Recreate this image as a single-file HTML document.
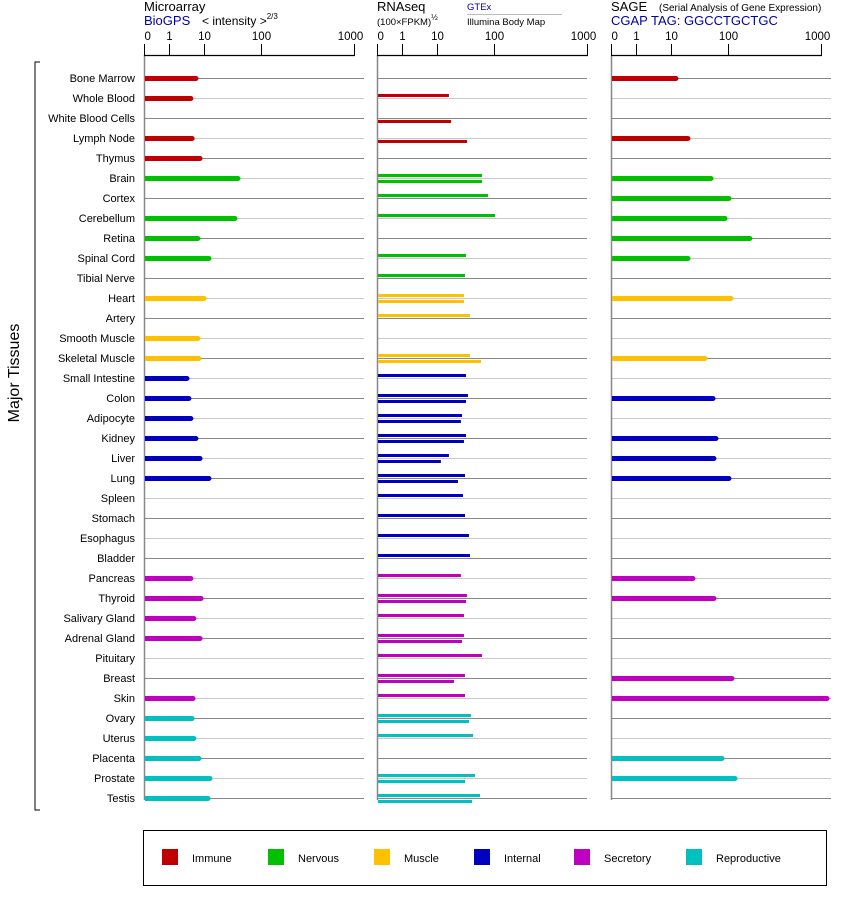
<!DOCTYPE html>
<html><head><meta charset="utf-8"><style>
body{margin:0;background:#fff;}
svg{display:block;font-family:"Liberation Sans",sans-serif;}
</style></head><body>
<svg id="chart" width="842" height="900" viewBox="0 0 842 900">
<g>
<text x="144" y="11" font-size="13">Microarray</text>
<text x="144" y="25" font-size="13" fill="#0000aa">BioGPS</text>
<text x="202" y="25" font-size="12">&lt; intensity &gt;<tspan font-size="8" dy="-6">2/3</tspan></text>
<text x="377" y="11" font-size="13">RNAseq</text>
<text x="377" y="25" font-size="9.5">(100×FPKM)<tspan font-size="8" dy="-5">½</tspan></text>
<text x="467" y="10" font-size="9.5" fill="#0000aa">GTEx</text>
<line x1="467" y1="14.5" x2="562" y2="14.5" stroke="#bbb" stroke-width="1"/>
<text x="467" y="25" font-size="9.5">Illumina Body Map</text>
<text x="611" y="11" font-size="13">SAGE</text>
<text x="659" y="11" font-size="10">(Serial Analysis of Gene Expression)</text>
<text x="611" y="25" font-size="13" fill="#0000aa">CGAP TAG: GGCCTGCTGC</text>
</g>
<g>
<path d="M40 62 H35 V810 H40" fill="none" stroke="#000" stroke-width="1"/>
<text transform="translate(19,373) rotate(-90)" text-anchor="middle" font-size="16">Major Tissues</text>
</g>
<g id="plot"></g>
<g>
<rect x="143.5" y="830.5" width="683" height="55" fill="none" stroke="#000"/>
<g id="legend"></g>
</g>
</svg>
<script>
const tissues=["Bone Marrow","Whole Blood","White Blood Cells","Lymph Node","Thymus","Brain","Cortex","Cerebellum","Retina","Spinal Cord","Tibial Nerve","Heart","Artery","Smooth Muscle","Skeletal Muscle","Small Intestine","Colon","Adipocyte","Kidney","Liver","Lung","Spleen","Stomach","Esophagus","Bladder","Pancreas","Thyroid","Salivary Gland","Adrenal Gland","Pituitary","Breast","Skin","Ovary","Uterus","Placenta","Prostate","Testis"];
const groups=[0,0,0,0,0,1,1,1,1,1,1,2,2,2,2,3,3,3,3,3,3,3,3,3,3,4,4,4,4,4,4,4,5,5,5,5,5];
const groupNames=["Immune","Nervous","Muscle","Internal","Secretory","Reproductive"];
const tickLabels=["0","1","10","100","1000"];
const tickValues=[0,1,10,100,1000];
const microarray=[7.2,5.4,0,5.8,9,43.6,0,38.6,8,13.4,0,10.9,0,8,8.5,4.3,4.8,5.4,7.2,9,13.4,0,0,0,0,5.4,9.5,6.4,9,0,0,6.1,5.8,6.4,8.5,14,12.9];
const gtex=[0,16.5,0,0,0,62.3,79,102.5,0,33,31.7,30.4,38.7,0,38.7,33,35.7,28.1,33,16.5,31.7,29.2,31.7,37.2,38.7,26.9,34.3,30.4,30.4,62.3,31.7,31.7,40.2,43.6,0,47.2,57.6];
const illumina=[0,0,18,34.3,0,62.3,0,0,0,0,0,30.4,0,0,60,0,33,26.9,30.4,11.8,23.9,0,0,0,0,0,33,0,28.1,0,20.3,0,37.2,0,0,31.7,41.9];
const sage=[13.4,0,0,22,0,55.4,107.6,96.2,181,22,0,113,0,0,43.6,0,60,0,67.4,62.3,107.6,0,0,0,0,26.9,62.3,0,0,0,116,1218,0,0,85.5,125,0];
const colors=["#c00000","#00c000","#ffc000","#0000c0","#c000c0","#00c0c0"];
const NS="http://www.w3.org/2000/svg";
const knotsF=[0,Math.log10(2),Math.log10(11),Math.log10(101),Math.log10(1001)];
const knotsD=[0,25,60,117,210];
function scale(v){const f=Math.log10(Math.max(v,0)+1);let i=0;while(i<3&&f>knotsF[i+1])i++;return knotsD[i]+(f-knotsF[i])/(knotsF[i+1]-knotsF[i])*(knotsD[i+1]-knotsD[i]);}
function rowY(i){return 78+i*20;}
function mk(tag,attrs,parent){const e=document.createElementNS(NS,tag);for(const k in attrs)e.setAttribute(k,attrs[k]);parent.appendChild(e);return e;}
const plot=document.getElementById('plot');
const panels=[{x:144,w:220,name:"microarray"},{x:377,w:210,name:"rnaseq"},{x:611,w:220,name:"sage"}];
tissues.forEach((t,i)=>{const e=mk('text',{x:135,y:rowY(i)+4,'text-anchor':'end','font-size':11},plot);e.textContent=t;

});
panels.forEach((p,pi)=>{
 const g=mk('g',{},plot);
 
 
 tissues.forEach((t,i)=>{const y=rowY(i)+0.5;const l=mk('line',{x1:p.x,x2:p.x+p.w,y1:y,y2:y,stroke:i%2==0?'#888':'#c8c8c8','stroke-width':1},g);
 
 });
 mk('line',{x1:p.x+0.5,x2:p.x+0.5,y1:55,y2:800,stroke:'#888','stroke-width':1.5},g);
 const ax=mk('line',{x1:p.x,x2:p.x+scale(1000)+1,y1:55.5,y2:55.5,stroke:'#000','stroke-width':1.2},g);
 
 
 tickValues.forEach((v,k)=>{const x=p.x+scale(v)+0.5;mk('line',{x1:x,x2:x,y1:44,y2:55,stroke:'#000','stroke-width':1},g);
 const tx=mk('text',{x:k==4?x-4:x,y:40,'text-anchor':k==0?'start':'middle','font-size':11.5},g);tx.textContent=tickLabels[k];
 
 });
});
function thickBar(px,i,v,name){if(!v)return;const y=rowY(i);const w=scale(v);const c=colors[groups[i]];
 const b=mk('path',{d:`M${px+1} ${y-2} H${px+w-2} A2.5 2.5 0 0 1 ${px+w-2} ${y+3} H${px+1} Z`,fill:c},plot);
 
 }
function thinBar(px,i,v,dy,name){if(!v)return;const y=rowY(i);const w=scale(v);
 const b=mk('rect',{x:px+1,y:y+dy,width:w-1,height:3,fill:colors[groups[i]]},plot);
 
 }
tissues.forEach((t,i)=>{
 thickBar(144,i,microarray[i],'microarray');
 thinBar(377,i,gtex[i],-4,'gtex');
 thinBar(377,i,illumina[i],2,'illumina');
 thickBar(611,i,sage[i],'sage');
});
const lg=document.getElementById('legend');
const lx=[162,268,374,474,574,686];
groupNames.forEach((n,k)=>{const r=mk('rect',{x:lx[k],y:849,width:16,height:16,fill:colors[k]},lg);
 
 
 const t=mk('text',{x:lx[k]+30,y:862,'font-size':11},lg);t.textContent=n;
 
 });
</script>
</body></html>
